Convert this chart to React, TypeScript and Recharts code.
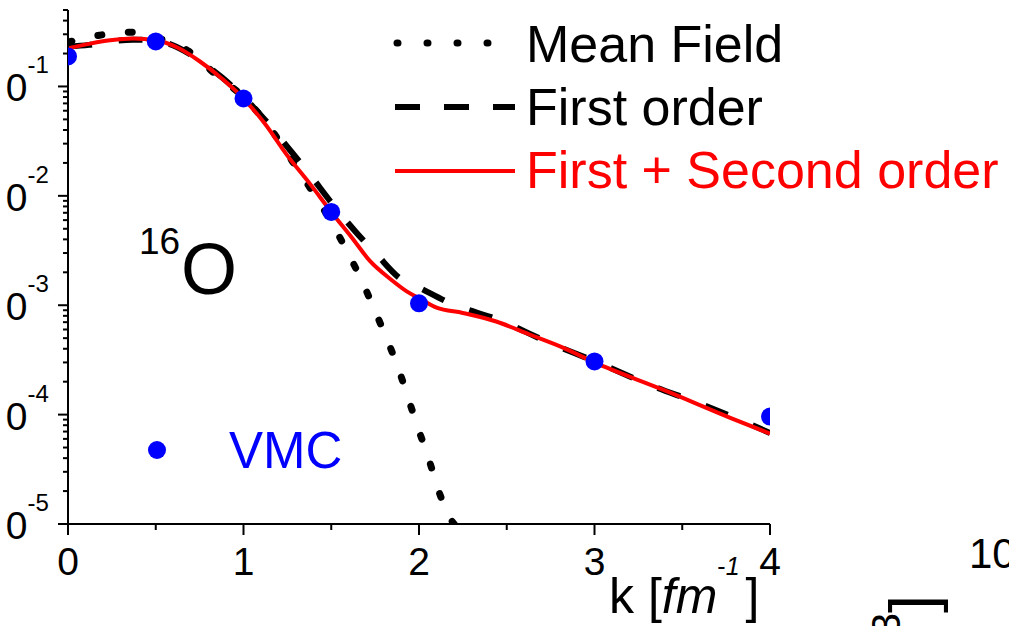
import { ComposedChart, Line, XAxis, YAxis } from 'recharts';

const FONT = '"Liberation Sans", Arial, sans-serif';
const RED = '#ff0000';
const BLUE = '#0000ff';

const W = 1009;
const H = 626;
const MARGIN = { top: 10, right: 239, bottom: 0, left: 0 };
const Y_AXIS_W = 68;
const X_AXIS_H = 102;
// plot box, used to clip the VMC markers like the original
const PLOT_X = MARGIN.left + Y_AXIS_W;
const PLOT_Y = MARGIN.top;
const PLOT_W = W - MARGIN.right - PLOT_X;
const PLOT_H = H - MARGIN.bottom - X_AXIS_H - PLOT_Y;

// momentum k [fm^-1] and n(k)
const kMeanField = [0, 0.18, 0.36, 0.5, 0.69, 0.85, 1.0, 1.15, 1.28, 1.39, 1.5, 1.59, 1.675, 1.75, 1.82, 1.886, 1.943, 2.0, 2.057, 2.108, 2.18, 2.2];
const meanField = [0.254, 0.294, 0.313, 0.28, 0.209, 0.125, 0.08, 0.042, 0.0205, 0.0111, 0.00577, 0.00312, 0.00166, 0.00088, 0.000478, 0.000254, 0.000134, 0.000071, 0.0000387, 0.000021, 0.0000111, 0.00001];

const kFirst = [0, 0.12, 0.24, 0.37, 0.5, 0.62, 0.75, 0.88, 1.0, 1.12, 1.25, 1.38, 1.5, 1.64, 1.76, 1.89, 2.0, 2.18, 2.46, 2.75, 3.0, 3.31, 3.6, 3.88, 4.0];
const firstOrder = [0.232, 0.24, 0.258, 0.268, 0.262, 0.23, 0.172, 0.12, 0.08, 0.05, 0.028, 0.0155, 0.0087, 0.00468, 0.0029, 0.00177, 0.00145, 0.00104, 0.000728, 0.000448, 0.000308, 0.000188, 0.000126, 0.0000826, 0.000068];

const kSecond = [0, 0.12, 0.24, 0.37, 0.5, 0.62, 0.75, 0.88, 1.0, 1.12, 1.25, 1.38, 1.5, 1.62, 1.72, 1.84, 1.93, 2.0, 2.1, 2.25, 2.44, 2.63, 2.82, 3.0, 3.39, 3.77, 4.0];
const secondOrder = [0.223, 0.245, 0.264, 0.275, 0.264, 0.228, 0.17, 0.117, 0.0776, 0.046, 0.0233, 0.0128, 0.00713, 0.0041, 0.00254, 0.00172, 0.00134, 0.00116, 0.00095, 0.00085, 0.00071, 0.00054, 0.00041, 0.0003, 0.000169, 0.000094, 0.000067];

const kVmc = [0, 0.5, 1, 1.5, 2, 3, 4];
const vmc = [0.188, 0.258, 0.0776, 0.00713, 0.00104, 0.000306, 0.000096];

const xTicks = [0, 0.5, 1, 1.5, 2, 2.5, 3, 3.5, 4];
const yTicks = [
  1e-5, 2e-5, 3e-5, 4e-5, 5e-5, 6e-5, 7e-5, 8e-5, 9e-5,
  1e-4, 2e-4, 3e-4, 4e-4, 5e-4, 6e-4, 7e-4, 8e-4, 9e-4,
  1e-3, 2e-3, 3e-3, 4e-3, 5e-3, 6e-3, 7e-3, 8e-3, 9e-3,
  1e-2, 2e-2, 3e-2, 4e-2, 5e-2, 6e-2, 7e-2, 8e-2, 9e-2,
  1e-1, 2e-1, 3e-1, 4e-1, 5e-1,
];

const toPoints = (ks: number[], vs: number[]) => ks.map((k, i) => ({ k, v: vs[i] }));

const XTick = (props: any) => {
  const { x, y, payload } = props;
  const major = Number.isInteger(payload.value);
  return (
    <g>
      <line x1={x} x2={x} y1={y} y2={y + (major ? 11 : 6)} stroke="#000" strokeWidth={2} />
      {major && (
        <text x={x} y={y + 51} textAnchor="middle" fontSize={39} fontFamily={FONT} fill="#000">
          {payload.value}
        </text>
      )}
    </g>
  );
};

// the figure is cropped on the left, so only "0" of "10" shows
const YTick = (props: any) => {
  const { x, y, payload } = props;
  const lg = Math.log10(payload.value);
  const major = Math.abs(lg - Math.round(lg)) < 1e-6;
  return (
    <g>
      <line x1={x - (major ? 10 : 5)} x2={x} y1={y} y2={y} stroke="#000" strokeWidth={2} />
      {major && (
        <text x={x - 90} y={y + 15} fontFamily={FONT} fill="#000">
          <tspan fontSize={39}>1</tspan>
          <tspan fontSize={39} dx={6}>0</tspan>
          <tspan fontSize={24} dy={-28}>{String(Math.round(lg))}</tspan>
        </text>
      )}
    </g>
  );
};

const VmcDot = (props: any) => (
  <svg
    x={PLOT_X}
    y={PLOT_Y}
    width={PLOT_W}
    height={PLOT_H}
    viewBox={`${PLOT_X} ${PLOT_Y} ${PLOT_W} ${PLOT_H}`}
    overflow="hidden"
  >
    <circle cx={props.cx} cy={props.cy} r={9} fill={BLUE} />
  </svg>
);

export default function App() {
  return (
    <div style={{ position: 'absolute', left: 0, top: 0, width: W, height: H, background: '#fff' }}>
      <ComposedChart width={W} height={H} margin={MARGIN}>
        <XAxis
          type="number"
          dataKey="k"
          domain={[0, 4]}
          ticks={xTicks}
          interval={0}
          allowDataOverflow
          height={X_AXIS_H}
          tickSize={0}
          tickMargin={0}
          tickLine={false}
          tick={<XTick />}
          axisLine={{ stroke: '#000', strokeWidth: 2 }}
        />
        <YAxis
          type="number"
          dataKey="v"
          scale="log"
          domain={[1e-5, 0.5]}
          ticks={yTicks}
          interval={0}
          allowDataOverflow
          width={Y_AXIS_W}
          tickSize={0}
          tickMargin={0}
          tickLine={false}
          tick={<YTick />}
          axisLine={{ stroke: '#000', strokeWidth: 2 }}
        />
        <Line
          data={toPoints(kMeanField, meanField)}
          dataKey="v"
          type="monotone"
          stroke="#000"
          strokeWidth={7}
          strokeDasharray="4 26.6"
          strokeLinecap="round"
          dot={false}
          activeDot={false}
          isAnimationActive={false}
        />
        <Line
          data={toPoints(kFirst, firstOrder)}
          dataKey="v"
          type="monotone"
          stroke="#000"
          strokeWidth={6}
          strokeDasharray="24 27"
          dot={false}
          activeDot={false}
          isAnimationActive={false}
        />
        <Line
          data={toPoints(kSecond, secondOrder)}
          dataKey="v"
          type="monotone"
          stroke={RED}
          strokeWidth={4}
          dot={false}
          activeDot={false}
          isAnimationActive={false}
        />
        {/* VMC points: markers only */}
        <Line
          data={toPoints(kVmc, vmc)}
          dataKey="v"
          stroke="none"
          dot={(p: any) => <VmcDot key={p.index} {...p} />}
          activeDot={false}
          isAnimationActive={false}
        />
      </ComposedChart>

      <svg width={W} height={H} style={{ position: 'absolute', left: 0, top: 0, pointerEvents: 'none' }} fontFamily={FONT}>
        {/* legend */}
        <line x1={397} y1={43} x2={489} y2={43} stroke="#000" strokeWidth={7} strokeDasharray="1 29" strokeLinecap="round" />
        <line x1={395} y1={107} x2={515} y2={107} stroke="#000" strokeWidth={6} strokeDasharray="25 24" />
        <line x1={395} y1={171} x2={515} y2={171} stroke={RED} strokeWidth={4} />
        <text x={526} y={62} fontSize={52} fill="#000">Mean Field</text>
        <text x={526} y={125} fontSize={52} fill="#000">First order</text>
        <text x={526} y={188} fontSize={52} fill={RED}>First + Second order</text>

        <text x={139} y={254} fontSize={37} fill="#000">16</text>
        <text x={181} y={294} fontSize={72} fill="#000">O</text>

        <circle cx={157} cy={450} r={9} fill={BLUE} />
        <text x={229} y={468} fontSize={51} fill={BLUE}>VMC</text>

        <text x={609} y={613} fontSize={50} fill="#000">
          k [<tspan fontStyle="italic">fm</tspan>
          <tspan fontSize={25} dy={-38}>-</tspan>
          <tspan fontSize={25} fontStyle="italic">1</tspan>
          <tspan dy={38} dx={6}>]</tspan>
        </text>

        {/* fragments of the neighbouring panel */}
        <text x={969} y={568} fontSize={42} fill="#000">10</text>
        <text x={935} y={595} transform="rotate(-90 935 595)" textAnchor="end" fontSize={65} fill="#000">
          <tspan fontSize={40} dy={-35}>3</tspan>
          <tspan dy={35}>]</tspan>
        </text>
      </svg>
    </div>
  );
}
